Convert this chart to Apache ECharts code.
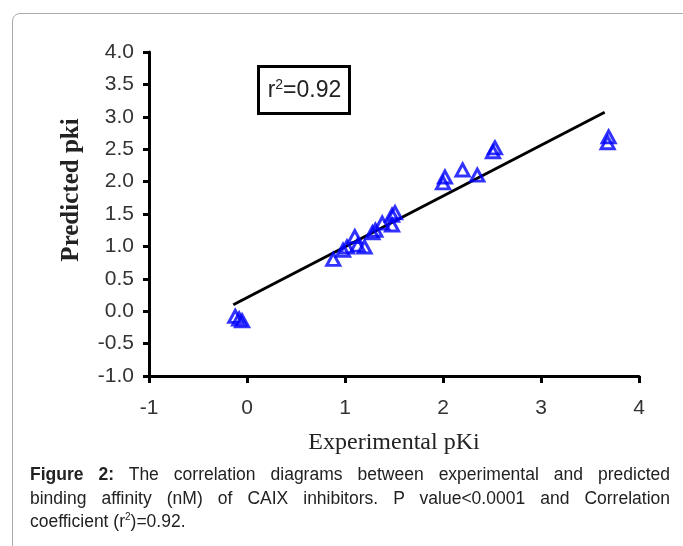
<!DOCTYPE html>
<html>
<head>
<meta charset="utf-8">
<script src="https://cdn.jsdelivr.net/npm/echarts@6/dist/echarts.min.js"></script>
<style>
  html, body { margin: 0; padding: 0; background: #fff; }
  #wrap { position: relative; width: 683px; height: 546px; overflow: hidden; }
  #frame { position: absolute; left: 12px; top: 13px; width: 700px; height: 560px;
           border: 1px solid #aaa; border-radius: 8px; }
  #chart { position: absolute; left: 0; top: 0; width: 683px; height: 546px; }
  #caption { position: absolute; left: 30px; top: 463px; width: 640px;
             font-family: 'Liberation Sans', Arial, sans-serif; font-size: 17.5px;
             line-height: 23.5px; color: #222; }
  #caption div { text-align: justify; text-align-last: justify; white-space: nowrap; }
  #caption div.last { text-align-last: left; }
</style>
</head>
<body>
<div id="wrap">
  <div id="frame"></div>
  <div id="chart"></div>
  <div id="caption">
    <div><b>Figure 2:</b> The correlation diagrams between experimental and predicted</div>
    <div>binding affinity (nM) of CAIX inhibitors. P value&lt;0.0001 and Correlation</div>
    <div class="last">coefficient (r<sup style="font-size:10px;line-height:0">2</sup>)=0.92.</div>
  </div>
</div>
<script>
// 实验值 / 预测值
var expPKi = [-0.12, -0.08, -0.05, 0.88, 0.98, 1.02, 1.10, 1.13, 1.20, 1.28, 1.31, 1.38, 1.48, 1.51, 1.48,
              2.02, 2.00, 2.20, 2.35, 2.51, 2.53, 3.69, 3.68];
var predPKi = [-0.08, -0.12, -0.15, 0.80, 0.94, 0.99, 1.15, 1.02, 0.99, 1.21, 1.25, 1.36, 1.48, 1.52, 1.33,
               2.07, 1.98, 2.18, 2.10, 2.46, 2.52, 2.69, 2.60];
// 回归线两端
var fitX = [-0.14, 3.65];
var fitY = [0.10, 3.07];

var xTicks = [-1, 0, 1, 2, 3, 4];
var yTicks = [-1.0, -0.5, 0.0, 0.5, 1.0, 1.5, 2.0, 2.5, 3.0, 3.5, 4.0];

var points = expPKi.map(function (x, i) { return [x, predPKi[i]]; });
var fitLine = fitX.map(function (x, i) { return [x, fitY[i]]; });

var tickFont = {
    color: '#333',
    fontFamily: 'Liberation Sans, Arial, sans-serif',
    fontSize: 21
};

var chart = echarts.init(document.getElementById('chart'));

var option = {
    animation: false,
    grid: { left: 149, top: 52, right: 44, bottom: 170 },
    xAxis: {
        type: 'value',
        min: xTicks[0],
        max: xTicks[xTicks.length - 1],
        interval: 1,
        splitLine: { show: false },
        axisLine: { show: true, onZero: false, lineStyle: { color: '#000', width: 3 } },
        axisTick: { show: true, length: 7, lineStyle: { color: '#000', width: 3 } },
        axisLabel: Object.assign({ margin: 22, formatter: function (v) { return String(v); } }, tickFont),
        name: 'Experimental pKi',
        nameLocation: 'middle',
        nameGap: 55,
        nameTextStyle: { fontFamily: 'Liberation Serif, serif', fontSize: 24, color: '#222' }
    },
    yAxis: {
        type: 'value',
        min: yTicks[0],
        max: yTicks[yTicks.length - 1],
        interval: 0.5,
        splitLine: { show: false },
        axisLine: { show: true, onZero: false, lineStyle: { color: '#000', width: 3 } },
        axisTick: { show: true, length: 6, lineStyle: { color: '#000', width: 3 } },
        axisLabel: Object.assign({ margin: 15, formatter: function (v) { return v.toFixed(1); } }, tickFont)
    },
    graphic: [
        {
            type: 'text',
            x: 72,
            y: 190,
            rotation: Math.PI / 2,
            style: { text: 'Predicted pki', fontFamily: 'Liberation Serif, serif', fontSize: 25,
                     fontWeight: 'bold', fill: '#222', align: 'center', verticalAlign: 'middle' }
        },
        {
            type: 'group',
            left: 257,
            top: 65,
            children: [
                { type: 'rect', shape: { x: 0, y: 0, width: 91, height: 47 },
                  style: { fill: '#fff', stroke: '#000', lineWidth: 3 } },
                { type: 'text', x: 46, y: 24,
                  style: { text: '{b|r}{s|2}{b|=0.92}', rich: {
                      b: { fontFamily: 'Liberation Sans, Arial, sans-serif', fontSize: 23, fill: '#222' },
                      s: { fontFamily: 'Liberation Sans, Arial, sans-serif', fontSize: 14, fill: '#222', verticalAlign: 'top', padding: [0, 0, 10, 0] }
                  }, align: 'center', verticalAlign: 'middle' } }
            ]
        }
    ],
    series: [
        {
            type: 'line',
            data: fitLine,
            symbol: 'none',
            lineStyle: { color: '#000', width: 3 },
            z: 2
        },
        {
            type: 'scatter',
            data: points,
            symbol: 'triangle',
            symbolSize: [13, 12],
            itemStyle: { color: 'rgba(0,0,0,0)', borderColor: '#0000ff', borderWidth: 3 },
            z: 3
        }
    ]
};

chart.setOption(option);
</script>
</body>
</html>
